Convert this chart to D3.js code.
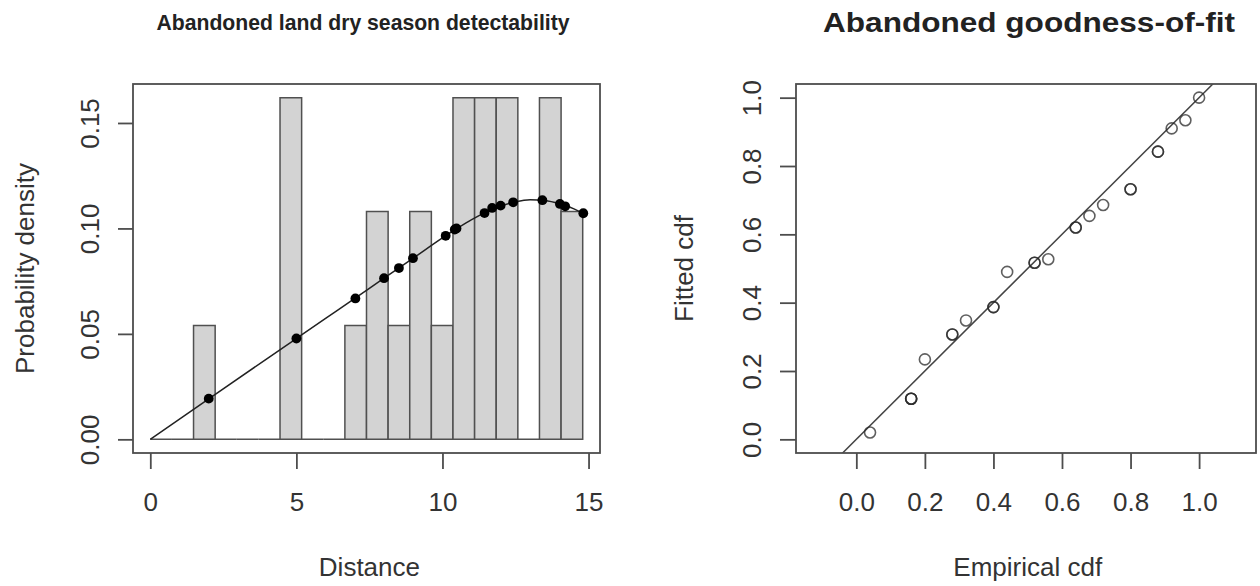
<!DOCTYPE html>
<html><head><meta charset="utf-8">
<script src="https://cdn.jsdelivr.net/npm/d3@7"></script>
<style>
html,body{margin:0;padding:0;background:#fff;}
svg{display:block;font-family:"Liberation Sans",Arial,Helvetica,sans-serif;}
</style></head>
<body><svg id="chart" width="1260" height="586"></svg>
<script>
// ---------- Left panel data ----------
const binBreaks = [0,0.74,1.48,2.22,2.96,3.7,4.44,5.18,5.92,6.66,7.4,8.14,8.88,9.62,10.36,11.1,11.84,12.58,13.32,14.06,14.8];
const binDensity = [0,0,0.054,0,0,0,0.162,0,0,0.054,0.108,0.054,0.108,0.054,0.162,0.162,0.162,0,0.162,0.108];
const curveX = [0,2,4,5,6,7,8,9,10,10.5,11,11.5,12,12.5,13,13.5,14,14.5,14.8];
const curveY = [0,0.0192,0.0383,0.0478,0.0573,0.0668,0.0764,0.0859,0.0955,0.1000,0.1042,0.1077,0.1106,0.1126,0.1136,0.1132,0.1117,0.1093,0.1072];
const obsX = [2.0,5.0,7.02,8.0,8.51,8.99,10.11,10.42,10.48,11.44,11.70,11.99,12.42,13.42,14.02,14.2,14.82];
const obsY = [0.0193,0.0478,0.0668,0.0764,0.0812,0.0859,0.0965,0.0995,0.1000,0.1073,0.1097,0.1108,0.1124,0.1134,0.1116,0.1105,0.1072];
const leftXTicks = [0,5,10,15];
const leftYTicks = [0,0.05,0.10,0.15];
const leftYTickLabels = ["0.00","0.05","0.10","0.15"];
// ---------- Right panel data ----------
const empCdf = [0.04,0.16,0.16,0.16,0.20,0.28,0.28,0.32,0.40,0.40,0.44,0.52,0.52,0.56,0.64,0.64,0.68,0.72,0.80,0.80,0.88,0.88,0.92,0.96,1.00];
const fitCdf = [0.020,0.119,0.119,0.119,0.234,0.307,0.307,0.348,0.387,0.387,0.490,0.517,0.517,0.527,0.620,0.620,0.654,0.686,0.732,0.732,0.842,0.842,0.910,0.934,1.000];
const rightTicks = [0,0.2,0.4,0.6,0.8,1.0];
const rightTickLabels = ["0.0","0.2","0.4","0.6","0.8","1.0"];

const svg = d3.select("#chart");
const axisCol = "#4d4d4d", textCol = "#333";
const fontSize = 26;
const ff = "Liberation Sans, Arial, sans-serif";

// ---------- Left panel ----------
const L = {x0:133, x1:600, y0:84, y1:453};
const xL = d3.scaleLinear().domain([-0.592, 15.392]).range([L.x0, L.x1]);
const yL = d3.scaleLinear().domain([-0.00648, 0.16848]).range([L.y1, L.y0]);
const gL = svg.append("g");

const bins = binDensity.map((d,i)=>({x0:binBreaks[i], x1:binBreaks[i+1], d}));
gL.selectAll("path.bar").data(bins).enter().append("path")
  .attr("class","bar")
  .attr("d", b => {
    const p = d3.path();
    p.moveTo(xL(b.x0), yL(0)); p.lineTo(xL(b.x0), yL(b.d));
    p.lineTo(xL(b.x1), yL(b.d)); p.lineTo(xL(b.x1), yL(0)); p.closePath();
    return p.toString();
  })
  .attr("fill","#d3d3d3").attr("stroke","#505050").attr("stroke-width",1.5);

const curvePts = curveX.map((x,i)=>[x, curveY[i]]);
gL.append("path").datum(curvePts)
  .attr("d", d3.line().x(d=>xL(d[0])).y(d=>yL(d[1])).curve(d3.curveMonotoneX))
  .attr("fill","none").attr("stroke","#222").attr("stroke-width",1.5);

gL.selectAll("circle.obs").data(obsX.map((x,i)=>[x,obsY[i]])).enter().append("circle")
  .attr("cx", d=>xL(d[0])).attr("cy", d=>yL(d[1])).attr("r",4.9).attr("fill","#000");

gL.append("rect").attr("x",L.x0).attr("y",L.y0).attr("width",L.x1-L.x0).attr("height",L.y1-L.y0)
  .attr("fill","none").attr("stroke",axisCol).attr("stroke-width",1.8);

const xAxL = d3.axisBottom(xL).tickValues(leftXTicks).tickSize(16).tickPadding(24).tickFormat(d3.format("d"));
const gxL = gL.append("g").attr("transform",`translate(0,${L.y1})`).call(xAxL);
gxL.select(".domain").remove();
gxL.selectAll("line").attr("stroke",axisCol).attr("stroke-width",1.8);
gxL.selectAll("text").attr("font-size",fontSize).attr("fill",textCol).attr("font-family",ff);

const yAxL = d3.axisLeft(yL).tickValues(leftYTicks).tickSize(15).tickFormat((d,i)=>leftYTickLabels[i]);
const gyL = gL.append("g").attr("transform",`translate(${L.x0},0)`).call(yAxL);
gyL.select(".domain").remove();
gyL.selectAll("line").attr("stroke",axisCol).attr("stroke-width",1.8);
gyL.selectAll("text").attr("font-size",fontSize).attr("fill",textCol).attr("font-family",ff)
  .attr("text-anchor","middle").attr("dy",null).attr("x",null)
  .attr("transform", `translate(${99-L.x0},0) rotate(-90)`);

gL.append("text").attr("x",(xL(0)+xL(15))/2).attr("y",576).attr("text-anchor","middle")
  .attr("font-size",fontSize).attr("fill",textCol).text("Distance");
gL.append("text").attr("transform",`translate(34,${(L.y0+L.y1)/2}) rotate(-90)`).attr("text-anchor","middle")
  .attr("font-size",fontSize).attr("fill",textCol).text("Probability density");
gL.append("text").attr("x",363).attr("y",30).attr("text-anchor","middle")
  .attr("font-size",21.5).attr("font-weight","bold").attr("fill","#222")
  .attr("textLength",413).attr("lengthAdjust","spacingAndGlyphs")
  .text("Abandoned land dry season detectability");

// ---------- Right panel ----------
const R = {x0:796, x1:1256, y0:84, y1:453};
const xR = d3.scaleLinear().domain([-0.176, 1.166]).range([R.x0, R.x1]);
const yR = d3.scaleLinear().domain([-0.04, 1.04]).range([R.y1, R.y0]);
const gR = svg.append("g");

svg.append("defs").append("clipPath").attr("id","clipR").append("rect")
  .attr("x",R.x0).attr("y",R.y0).attr("width",R.x1-R.x0).attr("height",R.y1-R.y0);
gR.append("line").attr("clip-path","url(#clipR)")
  .attr("x1",xR(-0.2)).attr("y1",yR(-0.2)).attr("x2",xR(1.2)).attr("y2",yR(1.2))
  .attr("stroke","#444").attr("stroke-width",1.5);

gR.selectAll("circle.pt").data(empCdf.map((e,i)=>[e,fitCdf[i]])).enter().append("circle")
  .attr("cx",d=>xR(d[0])).attr("cy",d=>yR(d[1])).attr("r",5.5)
  .attr("fill","none").attr("stroke","#2a2a2a").attr("stroke-width",1.6).attr("stroke-opacity",0.75);

gR.append("rect").attr("x",R.x0).attr("y",R.y0).attr("width",R.x1-R.x0).attr("height",R.y1-R.y0)
  .attr("fill","none").attr("stroke",axisCol).attr("stroke-width",1.8);

const xAxR = d3.axisBottom(xR).tickValues(rightTicks).tickSize(16).tickPadding(24).tickFormat((d,i)=>rightTickLabels[i]);
const gxR = gR.append("g").attr("transform",`translate(0,${R.y1})`).call(xAxR);
gxR.select(".domain").remove();
gxR.selectAll("line").attr("stroke",axisCol).attr("stroke-width",1.8);
gxR.selectAll("text").attr("font-size",fontSize).attr("fill",textCol).attr("font-family",ff);

const yAxR = d3.axisLeft(yR).tickValues(rightTicks).tickSize(16).tickFormat((d,i)=>rightTickLabels[i]);
const gyR = gR.append("g").attr("transform",`translate(${R.x0},0)`).call(yAxR);
gyR.select(".domain").remove();
gyR.selectAll("line").attr("stroke",axisCol).attr("stroke-width",1.8);
gyR.selectAll("text").attr("font-size",fontSize).attr("fill",textCol).attr("font-family",ff)
  .attr("text-anchor","middle").attr("dy",null).attr("x",null)
  .attr("transform", `translate(${761-R.x0},0) rotate(-90)`);

gR.append("text").attr("x",(xR(0)+xR(1))/2).attr("y",576).attr("text-anchor","middle")
  .attr("font-size",fontSize).attr("fill",textCol).text("Empirical cdf");
gR.append("text").attr("transform",`translate(693,${(R.y0+R.y1)/2}) rotate(-90)`).attr("text-anchor","middle")
  .attr("font-size",fontSize).attr("fill",textCol).text("Fitted cdf");
gR.append("text").attr("x",1029).attr("y",32).attr("text-anchor","middle")
  .attr("font-size",27).attr("font-weight","bold").attr("fill","#222")
  .attr("textLength",412).attr("lengthAdjust","spacingAndGlyphs")
  .text("Abandoned goodness-of-fit");
</script>
</body></html>
